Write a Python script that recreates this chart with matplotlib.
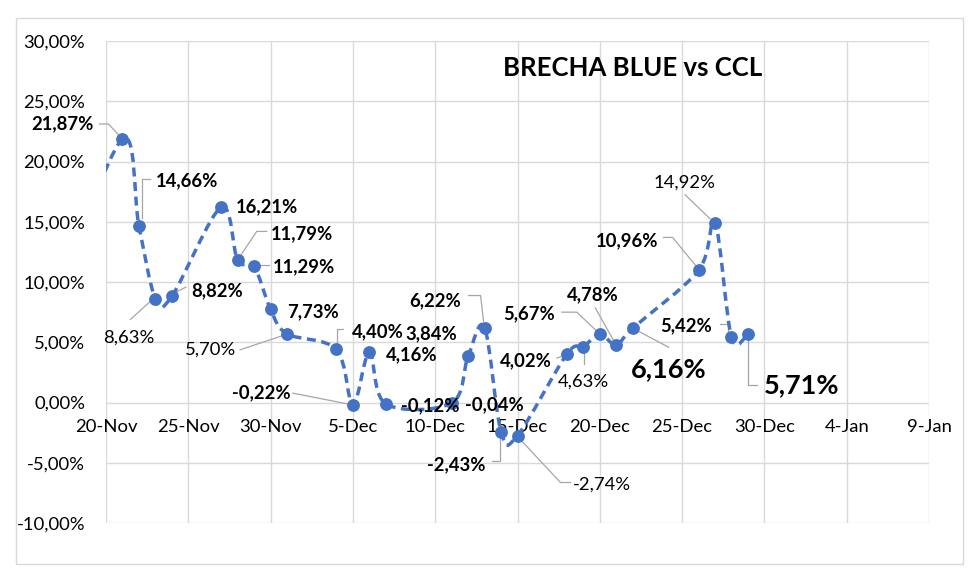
import matplotlib
matplotlib.use("Agg")
import matplotlib.pyplot as plt
import matplotlib.dates as mdates
from matplotlib.path import Path
from matplotlib.patches import PathPatch, Rectangle
import numpy as np
import datetime as dt

# ---------------- data ----------------
dates = ["2023-11-17", "2023-11-21", "2023-11-22", "2023-11-23", "2023-11-24",
         "2023-11-27", "2023-11-28", "2023-11-29", "2023-11-30", "2023-12-01",
         "2023-12-04", "2023-12-05", "2023-12-06", "2023-12-07", "2023-12-11",
         "2023-12-12", "2023-12-13", "2023-12-14", "2023-12-15", "2023-12-18",
         "2023-12-19", "2023-12-20", "2023-12-21", "2023-12-22", "2023-12-26",
         "2023-12-27", "2023-12-28", "2023-12-29"]
values = [9.0, 21.87, 14.66, 8.63, 8.82, 16.21, 11.79, 11.29, 7.73, 5.70,
          4.40, -0.22, 4.16, -0.12, -0.04, 3.84, 6.22, -2.43, -2.74, 4.02,
          4.63, 5.67, 4.78, 6.16, 10.96, 14.92, 5.42, 5.71]
# label style per point (None = no label)
label_style = [None, "b", "b", "r", "b", "b", "b", "b", "b", "r",
               "b", "b", "b", "b", "b", "b", "b", "b", "r", "b",
               "r", "b", "b", "big", "b", "r", "b", "big"]
x_tick_dates = ["2023-11-20", "2023-11-25", "2023-11-30", "2023-12-05",
                "2023-12-10", "2023-12-15", "2023-12-20", "2023-12-25",
                "2023-12-30", "2024-01-04", "2024-01-09"]
x_tick_labels = ["20-Nov", "25-Nov", "30-Nov", "5-Dec", "10-Dec", "15-Dec",
                 "20-Dec", "25-Dec", "30-Dec", "4-Jan", "9-Jan"]
y_ticks = [-10, -5, 0, 5, 10, 15, 20, 25, 30]
title = "BRECHA BLUE vs CCL"

# label placement (pixel offsets from the point: dx right, dy down)
label_offsets = [None, (-60, -15), (48, -45), (-27, 39), (45, -5), (46, 0),
                 (64, -27), (50, 0), (42, 2), (-77, 16), (41, -18), (-92, -12),
                 (42, 2), (44, 2), (43, 2), (-37, -22), (-49, -27), (-45, 33),
                 (84, 49), (-41, 7), (0, 35), (-71, -20), (-23, -50), (36, 41),
                 (-71, -30), (-30, -40), (-45, -11), (54, 51)]
leader_offsets = [None,
                  [(-23, -15), (-14, -15), (-2, -2)],
                  [(3, -8), (3, -47), (11, -47)],
                  [(-25, 21), (-2, 0)],
                  [(2, -3), (14, -9)],
                  None,
                  [(3, -5), (19, -29), (29, -29)],
                  [(5, -1), (15, -1)],
                  None,
                  [(-47, 16), (-5, 2)],
                  [(1, -5), (1, -20), (7, -20)],
                  [(-60, -12), (-4, -1)],
                  None, None, None, None,
                  [(-16, -32), (-4, -32), (-1, -6)],
                  [(-9, 29), (-1, 29), (-1, 5)],
                  [(1, 2), (43, 47), (53, 47)],
                  [(-10, 4), (-4, 2)],
                  [(1, 5), (1, 17)],
                  [(-38, -22), (-23, -22), (-3, -3)],
                  [(-21, -37), (-3, -5)],
                  [(4, 2), (36, 19)],
                  [(-35, -33), (-26, -33), (-3, -5)],
                  [(-30, -28), (-5, -4)],
                  [(-11, -13), (-3, -13), (-3, -4)],
                  [(0, 4), (0, 51), (9, 51)]]

# ---------------- figure ----------------
plt.rcParams['font.family'] = ['Lato', 'DejaVu Sans']
W, H, DPI = 980, 579, 100
fig = plt.figure(figsize=(W / DPI, H / DPI), dpi=DPI)
fig.patch.set_facecolor("white")
fig.add_artist(Rectangle((16 / W, 1 - 564 / H), (963 - 16) / W, (564 - 18) / H,
                         transform=fig.transFigure, fill=False,
                         edgecolor="#d9d9d9", lw=1.0))

ax = fig.add_axes([106 / W, 1 - 523 / H, (929 - 106) / W, (523 - 41) / H])
xd = mdates.date2num([dt.date.fromisoformat(d) for d in dates])
yv = np.array(values, dtype=float)
xt = mdates.date2num([dt.date.fromisoformat(d) for d in x_tick_dates])

TICK_FS = 13.3
LAB_FS = 13.3

ax.set_xlim(xt[0], xt[-1])
ax.set_ylim(-10, 30)
for s in ax.spines.values():
    s.set_visible(False)
ax.set_xticks(xt)
ax.set_xticklabels([])
ax.set_yticks(y_ticks)
ax.set_yticklabels([f"{v:.2f}%".replace(".", ",") for v in y_ticks],
                   fontsize=TICK_FS, color="#000000")
ax.tick_params(axis="both", length=0)
ax.tick_params(axis="y", pad=15)
ax.grid(True, color="#d9d9d9", lw=1.0)
ax.set_axisbelow(True)

# x tick labels next to the zero line
for x, lab in zip(xt, x_tick_labels):
    ax.annotate(lab, xy=(x, 0), xytext=(0, -25), textcoords="offset pixels",
                ha="center", va="center", fontsize=TICK_FS, color="#000000",
                annotation_clip=False)

# smoothed line (Bezier, Excel-like smoothing)
n = len(xd)
P = np.column_stack([xd, yv])
verts = [tuple(P[0])]
codes = [Path.MOVETO]
for i in range(n - 1):
    p_prev = P[i - 1] if i > 0 else P[i]
    p_next2 = P[i + 2] if i + 2 < n else P[i + 1]
    c1 = P[i] + (P[i + 1] - p_prev) / 6.0
    c2 = P[i + 1] - (p_next2 - P[i]) / 6.0
    verts += [tuple(c1), tuple(c2), tuple(P[i + 1])]
    codes += [Path.CURVE4] * 3
line = PathPatch(Path(verts, codes), fill=False, edgecolor="#4472C4", lw=2.5,
                 linestyle=(0, (2.6, 1.6)), zorder=3, capstyle="butt")
ax.add_patch(line)
ax.plot(xd, yv, linestyle="none", marker="o", markersize=8.2,
        color="#4472C4", zorder=4)

# labels and leader lines
fig.canvas.draw()
inv = ax.transData.inverted()
for i in range(n):
    st = label_style[i]
    if st is None:
        continue
    txt = f"{values[i]:.2f}%".replace(".", ",")
    dx, dy = label_offsets[i]
    if st == "big":
        fs, fw = 19.5, "bold"
    elif st == "b":
        fs, fw = LAB_FS, "bold"
    else:
        fs, fw = LAB_FS, "normal"
    ax.annotate(txt, xy=(xd[i], yv[i]), xytext=(dx, -dy),
                textcoords="offset pixels", ha="center", va="center",
                fontsize=fs, fontweight=fw, color="#000000", zorder=6,
                annotation_clip=False)
    lo = leader_offsets[i]
    if lo:
        px, py = ax.transData.transform((xd[i], yv[i]))
        pts = np.array([(px + ox, py - oy) for ox, oy in lo])
        dpts = inv.transform(pts)
        ax.plot(dpts[:, 0], dpts[:, 1], color="#a6a6a6", lw=0.9,
                zorder=2.5, clip_on=False)

fig.text(633 / W, 1 - 68 / H, title, ha="center", va="center",
         fontsize=18.5, fontweight="bold", color="#000000")

fig.savefig("out.png", dpi=DPI)
